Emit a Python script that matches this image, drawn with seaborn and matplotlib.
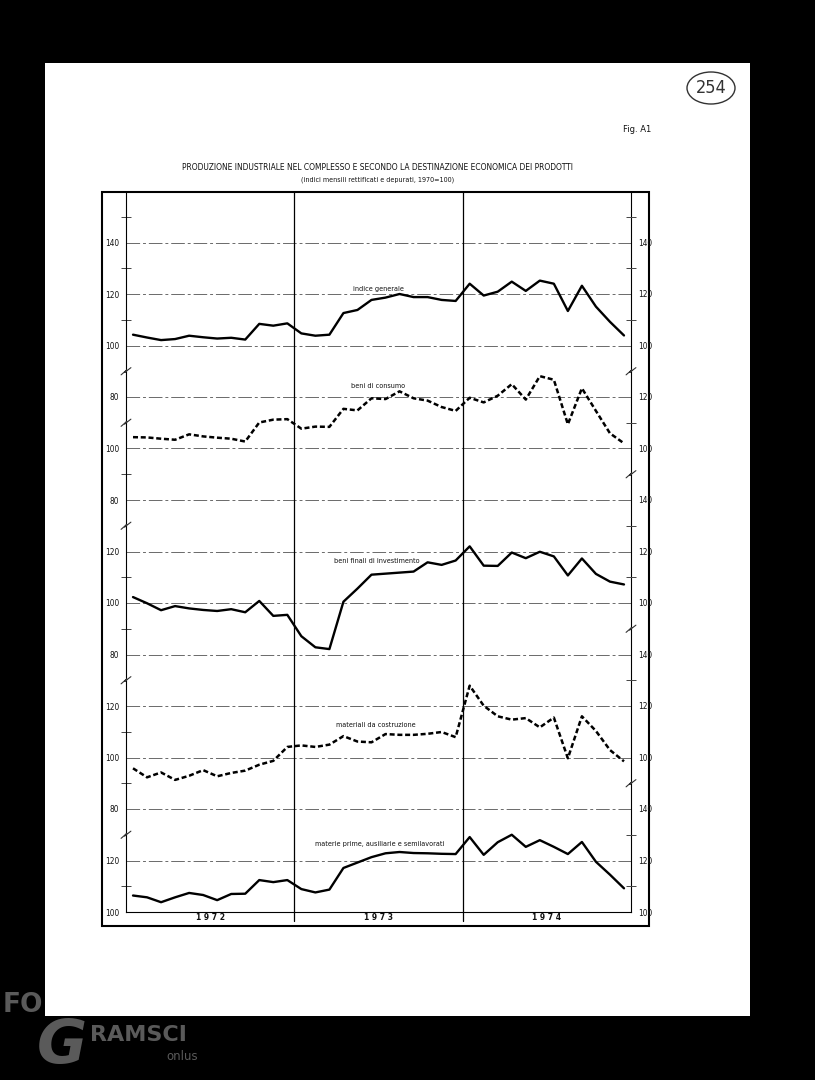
import numpy as np
import matplotlib
matplotlib.use('Agg')
import matplotlib.pyplot as plt
import seaborn as sns
from matplotlib import font_manager
from matplotlib.patches import Rectangle, Ellipse

# Data (monthly indices, 1972-1974, 1970=100)
years = ['1972', '1973', '1974']
months = np.arange(36)

indice_generale = [104.2, 103.1, 102.1, 102.5, 103.8, 103.2, 102.7, 103.0, 102.3, 108.4, 107.7, 108.6,
                   104.7, 103.8, 104.2, 112.6, 113.8, 117.7, 118.6, 120.0, 118.8, 118.8, 117.7, 117.3,
                   124.0, 119.4, 120.9, 124.8, 121.2, 125.2, 124.0, 113.4, 123.2, 115.1, 109.2, 103.9]
beni_consumo = [104.4, 104.3, 103.8, 103.4, 105.5, 104.7, 104.2, 103.8, 102.7, 110.1, 111.2, 111.4,
                107.7, 108.5, 108.4, 115.4, 114.8, 119.5, 119.2, 122.2, 119.5, 118.6, 116.1, 114.6,
                119.7, 117.9, 120.5, 125.0, 119.0, 128.1, 126.7, 109.4, 123.4, 114.6, 105.9, 102.0]
beni_investimento = [102.3, 99.9, 97.2, 98.8, 97.9, 97.3, 96.9, 97.6, 96.4, 100.8, 95.0, 95.4,
                     87.1, 82.8, 82.1, 100.5, 105.6, 111.0, 111.4, 111.8, 112.2, 115.8, 114.8, 116.5,
                     122.0, 114.5, 114.4, 119.6, 117.4, 119.9, 118.1, 110.7, 117.3, 111.3, 108.3, 107.2]
materiali_costruzione = [95.8, 92.3, 94.2, 91.3, 92.9, 95.1, 92.7, 94.0, 94.9, 97.2, 98.7, 104.1,
                         104.7, 104.1, 105.0, 108.3, 106.2, 105.9, 109.1, 108.8, 108.8, 109.2, 109.9, 107.9,
                         127.9, 120.1, 116.0, 114.7, 115.3, 111.7, 115.5, 99.7, 116.0, 110.3, 102.9, 98.5]
materie_prime = [106.4, 105.7, 103.8, 105.7, 107.4, 106.6, 104.6, 107.0, 107.1, 112.4, 111.6, 112.4,
                 108.9, 107.6, 108.7, 117.1, 119.2, 121.3, 122.8, 123.3, 122.9, 122.8, 122.6, 122.5,
                 129.1, 122.2, 127.1, 130.0, 125.3, 127.9, 125.3, 122.5, 127.2, 119.5, 114.5, 109.2]

series_names = ['indice generale', 'beni di consumo', 'beni finali di investimento',
                'materiali da costruzione', 'materie prime, ausiliarie e semilavorati']
left_labels = ['100', '120', '80', '100', '120', '80', '100', '120', '80', '100', '80', '100', '120', '140']
right_labels = ['100', '120', '140', '100', '120', '140', '100', '120', '140', '100', '120', '100', '120', '140']

# layout (pixels of the scanned page)
W, H = 815, 1080
PX = 2.575  # pixels per index point
offsets = [220, 180, 120, 60, 0]
dashed = [False, True, False, True, False]
label_pos = [(17.5, 242), (17.5, 204.3), (17.4, 136.3), (17.3, 72.6), (17.6, 26.5)]

sns.set_theme(style='white')
fonts = font_manager.fontManager.ttflist
names = {f.name for f in fonts}
cond = any(f.name == 'DejaVu Sans' and f.stretch in ('condensed', 600 - 100 * 2, 300)
           for f in fonts)
if 'Liberation Sans Narrow' in names:
    plt.rcParams['font.family'] = ['Liberation Sans Narrow', 'DejaVu Sans']
    k = 1.0
elif cond:
    plt.rcParams['font.family'] = ['DejaVu Sans']
    plt.rcParams['font.stretch'] = 'condensed'
    k = 0.9
else:
    plt.rcParams['font.family'] = ['DejaVu Sans']
    k = 0.8
INK = '#111111'

fig = plt.figure(figsize=(W / 100, H / 100), dpi=100, facecolor='black')

# page background, frame and loose texts in pixel coordinates
bg = fig.add_axes([0, 0, 1, 1], zorder=0)
bg.set_xlim(0, W)
bg.set_ylim(H, 0)
bg.axis('off')
bg.add_patch(Rectangle((45, 63), 705, 953, fc='white', ec='none', zorder=1))
bg.add_patch(Rectangle((102, 192), 547, 734, fill=False, ec='black', lw=1.5, zorder=3))
bg.text(23, 1005, 'FO', color='#5a5a5a', fontsize=19, fontweight='bold', ha='center', va='center',
        family='DejaVu Sans', stretch='normal', zorder=0)
bg.text(62, 1047, 'G', color='#5a5a5a', fontsize=44, fontweight='bold', style='italic',
        ha='center', va='center', family='DejaVu Sans', stretch='normal', zorder=2)
bg.text(138, 1035, 'RAMSCI', color='#5a5a5a', fontsize=16, fontweight='bold', ha='center',
        va='center', family='DejaVu Sans', stretch='normal', zorder=2)
bg.text(182, 1057, 'onlus', color='#5a5a5a', fontsize=8.5, ha='center', va='center',
        family='DejaVu Sans', stretch='normal', zorder=2)
bg.add_patch(Ellipse((711, 88), 48, 32, fill=False, ec='#333333', lw=1.0, zorder=3))
bg.text(711, 88, '254', fontsize=13, color='#333333', ha='center', va='center',
        family='DejaVu Sans', fontweight='light', zorder=3)
bg.text(637, 130, 'Fig. A1', fontsize=7.5 * k, color=INK, ha='center', va='center', zorder=3)
bg.text(378, 167, 'PRODUZIONE INDUSTRIALE NEL COMPLESSO E SECONDO LA DESTINAZIONE ECONOMICA DEI PRODOTTI',
        fontsize=6.7 * k, color=INK, ha='center', va='center', zorder=3)
bg.text(378, 180, '(indici mensili rettificati e depurati, 1970=100)', fontsize=5.7 * k,
        color=INK, ha='center', va='center', zorder=3)

# main chart
ax = fig.add_axes([126 / W, 1 - 912 / H, (631 - 126) / W, (912 - 192) / H], zorder=2)
ax.set_facecolor('none')
top = (912 - 192) / PX
ax.set_xlim(-0.5, 35.5)
ax.set_ylim(0, top)

for gy in range(20, 280, 20):
    ax.axhline(gy, color='#6a6a6a', lw=0.7, ls=(0, (14, 3, 3, 3)), zorder=1)
for xv in [11.5, 23.5]:
    ax.axvline(xv, ymin=-9 / 720, ymax=1, color='black', lw=0.9, clip_on=False, zorder=1)

all_series = [indice_generale, beni_consumo, beni_investimento, materiali_costruzione, materie_prime]
for vals, off, dsh, name, pos in zip(all_series, offsets, dashed, series_names, label_pos):
    y = np.array(vals) - 100 + off
    sns.lineplot(x=months, y=y, ax=ax, color='black', lw=1.7 if not dsh else 1.8,
                 linestyle=(0, (2, 1.1)) if dsh else '-', zorder=3)
    ax.text(pos[0], pos[1], name, fontsize=5.8 * k, color=INK, ha='center', va='center', zorder=4)

ax.set_xticks([5.5, 17.5, 29.5])
ax.set_xticklabels([' '.join(y) for y in years], fontsize=6.8 * k, fontweight='bold', color=INK)
ax.tick_params(axis='x', length=0, pad=1)
ax.set_xlabel('')
ax.set_ylabel('')

major = list(range(0, 280, 20))
ax.set_yticks(major)
ax.set_yticklabels(left_labels, fontsize=6.6 * k, color=INK)
ax.set_yticks([10, 50, 70, 110, 130, 170, 230, 250, 270], minor=True)
ax.tick_params(axis='y', which='major', length=0, pad=5, left=True)
ax.tick_params(axis='y', which='minor', length=7, width=0.7, direction='inout', left=True, color='#444444')
for s in ['left', 'right', 'bottom']:
    ax.spines[s].set_linewidth(0.8)
    ax.spines[s].set_color('black')
ax.spines['top'].set_visible(False)

ax2 = ax.twinx()
ax2.set_ylim(0, top)
ax2.set_yticks(major)
ax2.set_yticklabels(right_labels, fontsize=6.6 * k, color=INK)
ax2.set_yticks([10, 30, 90, 130, 150, 190, 230, 250, 270], minor=True)
ax2.tick_params(axis='y', which='major', length=0, pad=5, right=True)
ax2.tick_params(axis='y', which='minor', length=7, width=0.7, direction='inout', right=True, color='#444444')
for s in ax2.spines.values():
    s.set_visible(False)

# axis break marks
zig_x = np.array([-0.35, 0.05, -0.1, 0.35])
zig_y = np.array([-1.4, 0.5, -0.5, 1.4])
for u in [210, 190, 150, 90, 30]:
    ax.plot(-0.5 + zig_x, u + zig_y, color='#333333', lw=0.8, clip_on=False, zorder=4)
for u in [210, 170, 110, 50]:
    ax.plot(35.5 + zig_x, u + zig_y, color='#333333', lw=0.8, clip_on=False, zorder=4)

fig.savefig('out.png', dpi=100, facecolor='black')
